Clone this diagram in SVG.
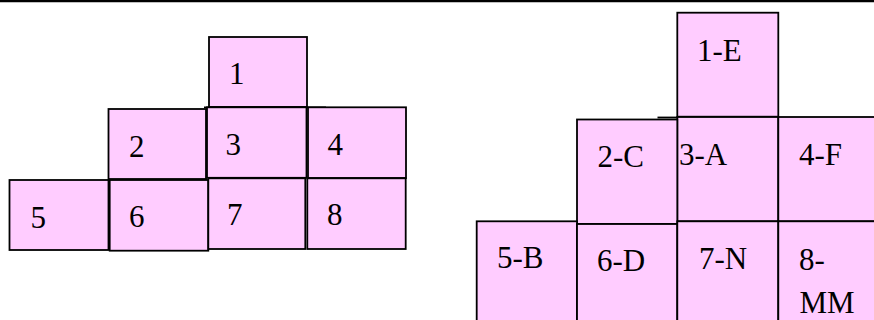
<svg xmlns="http://www.w3.org/2000/svg" width="874" height="320" viewBox="0 0 874 320">
<style>
.b{fill:#FFCCFF;stroke:#000;stroke-width:1.8}
.t{font-family:"Liberation Serif","Times New Roman",serif;font-size:31px;fill:#000}
</style>
<rect x="0" y="0" width="874" height="320" fill="#fff"/>
<line x1="0" y1="1" x2="874" y2="1" stroke="#000" stroke-width="2.5"/>
<g id="left">
<g id="n1"><rect class="b" x="209" y="37" width="98" height="70"/><text class="t" x="229" y="84">1</text></g>
<g id="n2"><rect class="b" x="108.5" y="109" width="97.5" height="70"/><text class="t" x="129" y="157">2</text></g>
<g id="n3"><line x1="204" y1="107.3" x2="326" y2="107.3" stroke="#000" stroke-width="1.8"/><rect class="b" x="207" y="107.3" width="99.5" height="70.5"/><text class="t" x="225.5" y="154.5">3</text></g>
<g id="n4"><rect class="b" x="308" y="107.3" width="98" height="70.7"/><text class="t" x="327.5" y="155">4</text></g>
<g id="n5"><rect class="b" x="9.5" y="180" width="99" height="70"/><text class="t" x="30.5" y="228">5</text></g>
<g id="n6"><rect class="b" x="109.7" y="180" width="98.6" height="70.7"/><text class="t" x="129" y="227">6</text></g>
<g id="n7"><rect class="b" x="208.3" y="178.3" width="97" height="70.7"/><text class="t" x="227" y="225">7</text></g>
<g id="n8"><rect class="b" x="307.3" y="178.3" width="98.4" height="70.7"/><text class="t" x="327" y="225">8</text></g>
</g>
<g id="right">
<g id="r1"><rect class="b" x="677.3" y="12.7" width="101" height="104"/><text class="t" x="697" y="61">1-E</text></g>
<g id="r3"><line x1="657.5" y1="117.5" x2="677.3" y2="117.5" stroke="#000" stroke-width="1.8"/><rect class="b" x="677.3" y="117" width="101" height="104.3"/><text class="t" x="679" y="165">3-A</text></g>
<g id="r2"><rect class="b" x="577" y="119.5" width="100.3" height="104.5"/><text class="t" x="597.5" y="167">2-C</text></g>
<g id="r4"><rect class="b" x="778.3" y="117" width="100" height="104.3"/><text class="t" x="799" y="165">4-F</text></g>
<g id="r5"><rect class="b" x="476.7" y="221.3" width="100.3" height="104"/><text class="t" x="497" y="268.3">5-B</text></g>
<g id="r6"><rect class="b" x="577" y="224" width="100.3" height="104"/><text class="t" x="597" y="270.5">6-D</text></g>
<g id="r7"><rect class="b" x="677.3" y="221.3" width="101" height="104"/><text class="t" x="699" y="269">7-N</text></g>
<g id="r8"><rect class="b" x="778.3" y="221.3" width="100" height="104"/><text class="t" x="799" y="270">8-</text><text class="t" x="799.5" y="312.5">MM</text></g>
</g>
</svg>
